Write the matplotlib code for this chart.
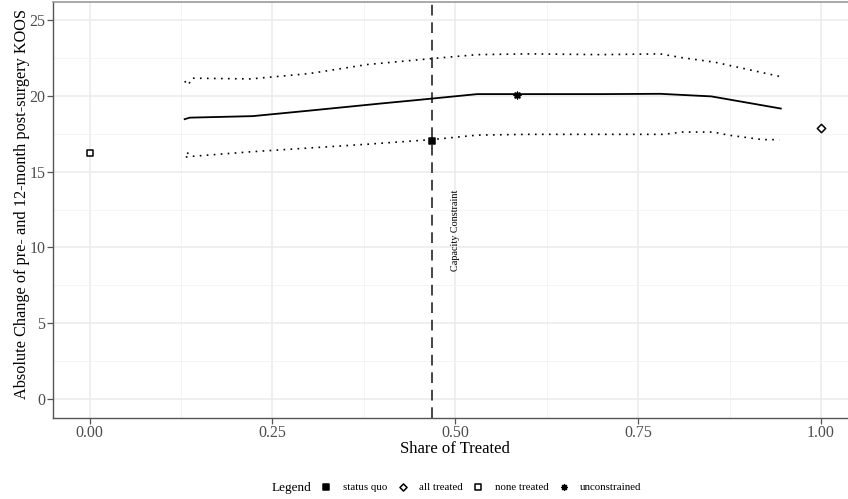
import numpy as np
import matplotlib
matplotlib.use('Agg')
import matplotlib.pyplot as plt
from matplotlib.ticker import MultipleLocator

plt.rcParams['font.family'] = ['Liberation Serif', 'DejaVu Serif']

# estimated curve (solid) and its confidence band (dotted)
est_x = [0.13, 0.137, 0.223, 0.30, 0.35, 0.40, 0.45, 0.53, 0.60, 0.70, 0.78, 0.85, 0.945]
est_y = [18.45, 18.55, 18.65, 19.01, 19.25, 19.49, 19.72, 20.1, 20.1, 20.1, 20.12, 19.95, 19.15]

upper_x = [0.13, 0.135, 0.14, 0.22, 0.30, 0.38, 0.47, 0.53, 0.60, 0.70, 0.78, 0.81, 0.855, 0.945]
upper_y = [20.95, 20.7, 21.15, 21.1, 21.45, 22.05, 22.45, 22.7, 22.75, 22.7, 22.75, 22.5, 22.2, 21.25]

lower_x = [0.135, 0.13, 0.14, 0.22, 0.30, 0.38, 0.467, 0.53, 0.60, 0.70, 0.785, 0.81, 0.853, 0.873, 0.92, 0.943]
lower_y = [16.25, 15.95, 16.0, 16.3, 16.55, 16.8, 17.1, 17.4, 17.45, 17.45, 17.45, 17.6, 17.6, 17.4, 17.1, 17.1]

# scenario points
scen_labels = ['status quo', 'all treated', 'none treated', 'unconstrained']
scen_x = [0.468, 1.0, 0.0, 0.584]
scen_y = [17.0, 17.85, 16.25, 20.07]
scen_markers = ['s', 'D', 's', (8, 2, 0)]
scen_filled = [True, False, False, True]

capacity = 0.468

fig = plt.figure(figsize=(8.48, 4.99), dpi=100)
ax = fig.add_axes([53 / 848, 1 - 417.5 / 499, 804.6 / 848, 416 / 499])

ax.set_xlim(-0.05, 1.05)
ax.set_ylim(-1.2, 26.2)
ax.xaxis.set_major_locator(MultipleLocator(0.25))
ax.xaxis.set_minor_locator(MultipleLocator(0.125))
ax.yaxis.set_major_locator(MultipleLocator(5))
ax.yaxis.set_minor_locator(MultipleLocator(2.5))
ax.grid(which='major', color='#ebebeb', lw=1.1, zorder=0)
ax.grid(which='minor', color='#f3f3f3', lw=0.6, zorder=0)
ax.set_axisbelow(True)
ax.xaxis.set_major_formatter(matplotlib.ticker.FormatStrFormatter('%.2f'))
ax.yaxis.set_major_formatter(matplotlib.ticker.FormatStrFormatter('%d'))
ax.tick_params(which='major', length=4, color='#555555', labelsize=11.5, labelcolor='#4d4d4d', width=0.9, pad=1.5)
ax.tick_params(which='minor', length=0)

for s in ['left', 'bottom']:
    ax.spines[s].set_color('#555555')
    ax.spines[s].set_linewidth(1.0)
ax.spines['top'].set_color('#999999')
ax.spines['top'].set_linewidth(1.2)
ax.spines['right'].set_visible(False)

ax.plot(est_x, est_y, color='black', lw=1.3, zorder=3)
ax.plot(upper_x, upper_y, color='black', lw=1.2, dashes=(1, 3.2), zorder=3)
ax.plot(lower_x, lower_y, color='black', lw=1.2, dashes=(1, 3.2), zorder=3)

ax.axvline(capacity, color='#444444', lw=1.4, dashes=(5.5, 3.5), zorder=2)
ax.text(0.5, 11.1, 'Capacity Constraint', rotation=90, ha='center', va='center', fontsize=7.3)

handles = []
for lab, x, y, m, f in zip(scen_labels, scen_x, scen_y, scen_markers, scen_filled):
    h = ax.scatter([x], [y], marker=m, s=22 if m != 'D' else 18,
                   facecolor='black' if f else 'white', edgecolor='black',
                   linewidths=1.1, zorder=4, label=lab)
    handles.append(h)

ax.set_xlabel('Share of Treated', fontsize=12, labelpad=0)
ax.set_ylabel('Absolute Change of pre- and 12-month post-surgery KOOS', fontsize=11.7)
ax.yaxis.set_label_coords(-0.0286, 0.513)

fig.text(272 / 848, 1 - 487.5 / 499, 'Legend', fontsize=9.5, ha='left', va='center')
fig.legend(handles=handles, labels=scen_labels, loc='center left', bbox_to_anchor=(321 / 848, 1 - 487.5 / 499),
           ncol=4, frameon=False, fontsize=7.8, handlelength=1.0, handletextpad=1.0,
           columnspacing=0.95, borderpad=0, borderaxespad=0, markerscale=0.85)

fig.savefig('out.png', dpi=100)
